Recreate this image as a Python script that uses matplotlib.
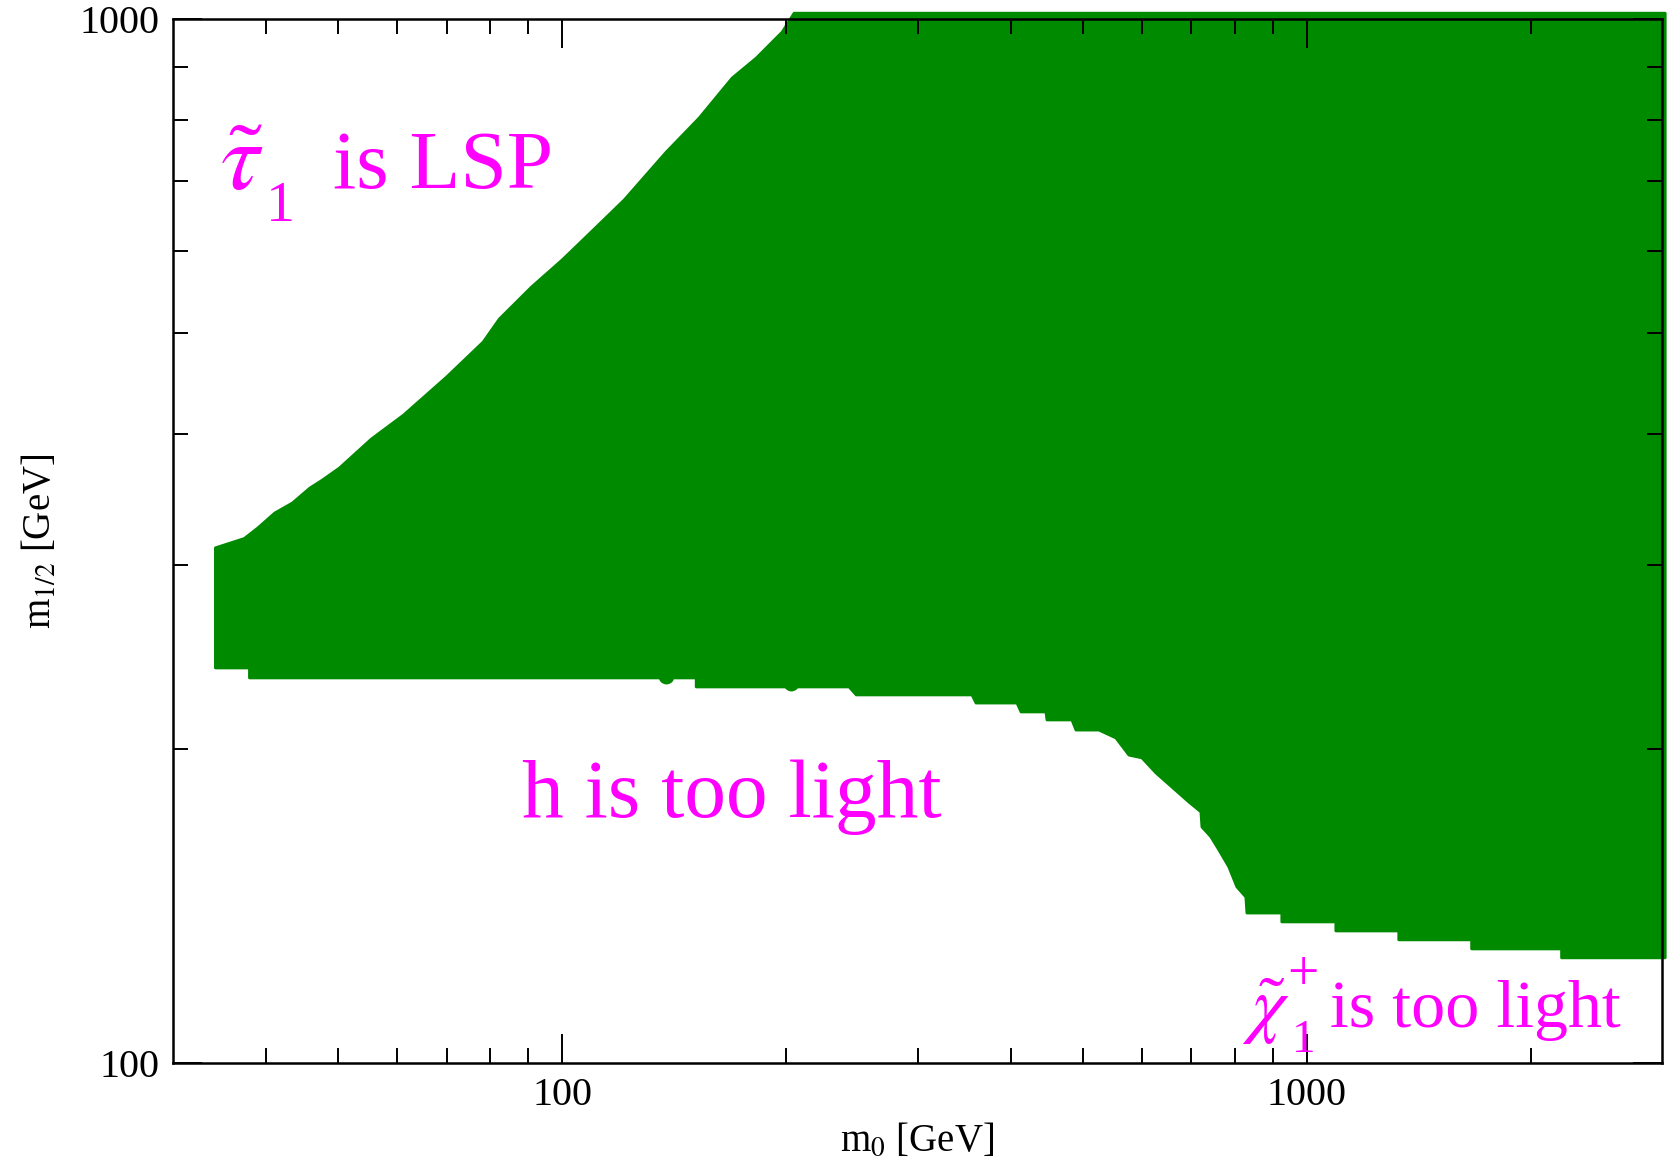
import matplotlib
matplotlib.use("Agg")
import matplotlib.pyplot as plt
import numpy as np

plt.rcParams['font.family'] = ['Liberation Serif', 'DejaVu Serif']
plt.rcParams['mathtext.fontset'] = 'stix'

# Allowed-region boundary (m0, m1/2) in GeV
upper_m0 = [34.2, 34.2, 37.4, 39.0, 41.1, 43.4, 45.8, 47.6, 50.2, 55.4, 61.2, 69.9,
            78.3, 82.3, 90.9, 100, 110.4, 121.1, 137.9, 152.7, 169.1, 182.2, 197.4,
            204.8, 3030]
upper_m12 = [239, 311.5, 318, 325.5, 336.4, 343.9, 355.4, 361.7, 371.5, 396, 417.5, 454,
             490.5, 516, 553.7, 588, 629.4, 671, 745.7, 803.9, 878, 917.6, 971.7,
             1013, 1013]
lower_m0 = [34.2, 38.0, 38.0, 151.3, 151.3, 242.8, 248.2, 355.1, 359.5, 408.1, 413.2,
            446.3, 447.7, 483.7, 489.7, 525.8, 554.2, 576.9, 600.6, 627.2, 658.9, 694.5,
            720.7, 723.0, 743.2, 761.9, 785.8, 805.4, 828.2, 830.9, 925.6, 925.6, 1094,
            1094, 1329, 1329, 1665, 1665, 2199, 2199, 3030]
lower_m12 = [239, 239, 233.8, 233.8, 229.2, 229.2, 225.2, 225.2, 221.2, 221.2, 216.9,
             216.9, 213.1, 213.1, 208.4, 208.4, 204.8, 197.2, 196, 189.6, 183.8, 177.8,
             174, 168.3, 164.7, 160, 154.1, 147.5, 144.2, 139.2, 139.2, 136.5, 136.5,
             133.8, 133.8, 131.2, 131.2, 128.6, 128.6, 126.1, 126.1]
# isolated scan points sticking out below the lower edge
extra_m0 = [137.9, 203.0]
extra_m12 = [234.8, 231.2]

x_major = [100, 1000]
x_major_labels = ['100', '1000']
x_minor = [40, 50, 60, 70, 80, 90, 200, 300, 400, 500, 600, 700, 800, 900, 2000]
y_major = [100, 1000]
y_major_labels = ['100', '1000']
y_minor = [200, 300, 400, 500, 600, 700, 800, 900]

green = '#008a00'
magenta = '#ff00ff'

fig = plt.figure(figsize=(16.67, 11.69), dpi=100)
ax = fig.add_axes([0.1038, 0.0907, 0.8932, 0.893])
ax.set_xscale('log')
ax.set_yscale('log')
ax.set_xlim(30, 3000)
ax.set_ylim(100, 1000)

poly_x = list(upper_m0) + list(lower_m0[::-1])
poly_y = list(upper_m12) + list(lower_m12[::-1])
ax.fill(poly_x, poly_y, facecolor=green, edgecolor=green, lw=2, joinstyle='round',
        clip_on=False, zorder=1)
ax.scatter(extra_m0, extra_m12, s=130, color=green, lw=0, zorder=1, clip_on=False)

ax.set_xticks(x_major)
ax.set_xticklabels(x_major_labels)
ax.set_xticks(x_minor, minor=True)
ax.set_xticklabels([''] * len(x_minor), minor=True)
ax.set_yticks(y_major)
ax.set_yticklabels(y_major_labels)
ax.set_yticks(y_minor, minor=True)
ax.set_yticklabels([''] * len(y_minor), minor=True)

ax.tick_params(which='both', direction='in', top=True, right=True, colors='black',
               labelsize=29, pad=10)
ax.tick_params(which='major', length=21, width=1.4)
ax.tick_params(which='minor', length=11, width=1.4)
for s in ax.spines.values():
    s.set_linewidth(1.8)
    s.set_zorder(3)

ax.set_xlabel(r'm$_0$ [GeV]', fontsize=28)
ax.xaxis.set_label_coords(0.5, -0.057)
ax.set_ylabel(r'm$_{1/2}$ [GeV]', fontsize=28)
ax.yaxis.set_label_coords(-0.076, 0.5)

H = 1169.0
W = 1667.0
# region labels
fig.text(220 / W, 1 - 190 / H, r'$\tilde{\tau}$', fontsize=70, color=magenta,
         ha='left', va='baseline')
fig.text(266 / W, 1 - 221 / H, '1', fontsize=42, color=magenta,
         ha='left', va='baseline')
fig.text(333 / W, 1 - 188 / H, 'is LSP', fontsize=60, color=magenta,
         ha='left', va='baseline')
fig.text(522 / W, 1 - 817 / H, 'h is too light', fontsize=60, color=magenta,
         ha='left', va='baseline')
fig.text(1242 / W, 1 - 1030 / H, r'$\tilde{\chi}$', fontsize=54, color=magenta,
         ha='left', va='baseline')
fig.text(1287 / W, 1 - 990 / H, '+', fontsize=40, color=magenta,
         ha='left', va='baseline')
fig.text(1292 / W, 1 - 1052 / H, '1', fontsize=34, color=magenta,
         ha='left', va='baseline')
fig.text(1330 / W, 1 - 1027 / H, 'is too light', fontsize=49, color=magenta,
         ha='left', va='baseline')

fig.savefig('out.png', dpi=100)
